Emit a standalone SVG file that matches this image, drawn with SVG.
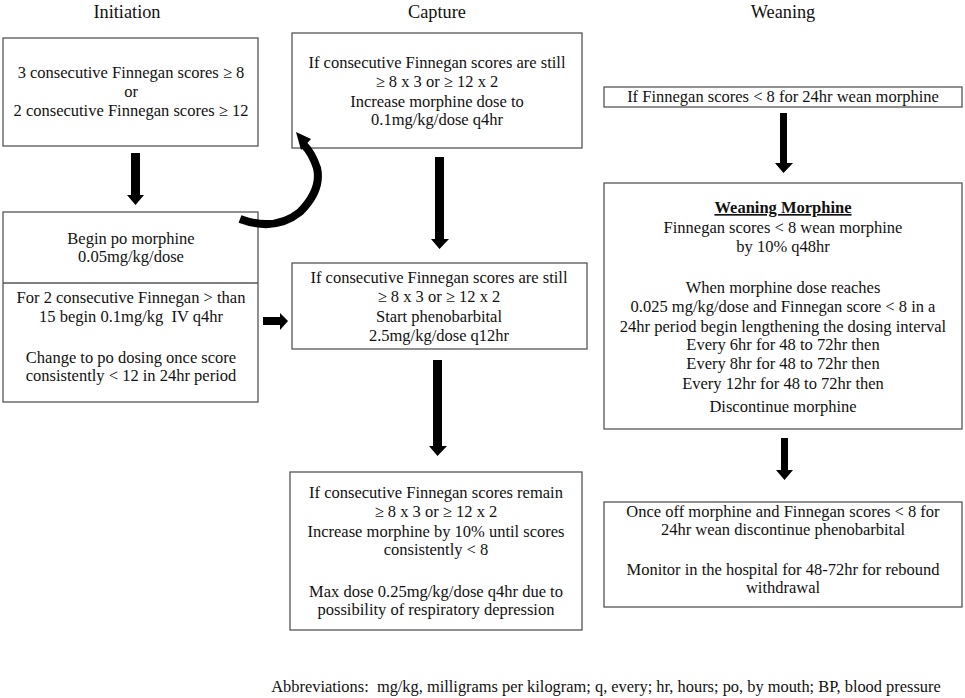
<svg xmlns="http://www.w3.org/2000/svg" width="965" height="698" viewBox="0 0 965 698" font-family="'Liberation Serif', 'Times New Roman', serif">
<style>
.box{fill:#fff;stroke:#555;stroke-width:1.3}
text{font-family:"Liberation Serif","Times New Roman",serif;font-size:16.5px;fill:#111;text-anchor:middle}
.title{font-size:18.3px}
.arr{fill:#000}
</style>
<rect width="965" height="698" fill="#fff"/>
<g id="titles">
<text class="title" x="127" y="18">Initiation</text>
<text class="title" x="437" y="18">Capture</text>
<text class="title" x="783" y="18">Weaning</text>
</g>
<g id="init1">
<rect class="box" x="3" y="38" width="255" height="108"/>
<text x="131" y="78">3 consecutive Finnegan scores ≥ 8</text>
<text x="131" y="97">or</text>
<text x="131" y="116">2 consecutive Finnegan scores ≥ 12</text>
</g>
<g id="init2">
<rect class="box" x="3" y="212" width="255" height="190"/>
<line x1="3" y1="283" x2="258" y2="283" stroke="#555" stroke-width="1.3"/>
<text x="131" y="244">Begin po morphine</text>
<text x="131" y="262">0.05mg/kg/dose</text>
<text x="131" y="303">For 2 consecutive Finnegan &gt; than</text>
<text x="131" y="322" xml:space="preserve">15 begin 0.1mg/kg  IV q4hr</text>
<text x="131" y="363">Change to po dosing once score</text>
<text x="131" y="381">consistently &lt; 12 in 24hr period</text>
</g>
<g id="cap1">
<rect class="box" x="292" y="33" width="290" height="115"/>
<text x="437" y="68">If consecutive Finnegan scores are still</text>
<text x="437" y="87">≥ 8 x 3 or ≥ 12 x 2</text>
<text x="437" y="107">Increase morphine dose to</text>
<text x="437" y="125">0.1mg/kg/dose q4hr</text>
</g>
<g id="cap2">
<rect class="box" x="292" y="263" width="295" height="86"/>
<text x="439" y="283">If consecutive Finnegan scores are still</text>
<text x="439" y="302">≥ 8 x 3 or ≥ 12 x 2</text>
<text x="439" y="322">Start phenobarbital</text>
<text x="439" y="341">2.5mg/kg/dose q12hr</text>
</g>
<g id="cap3">
<rect class="box" x="290" y="472" width="292" height="158"/>
<text x="436" y="498">If consecutive Finnegan scores remain</text>
<text x="436" y="517">≥ 8 x 3 or ≥ 12 x 2</text>
<text x="436" y="537">Increase morphine by 10% until scores</text>
<text x="436" y="555">consistently &lt; 8</text>
<text x="436" y="597">Max dose 0.25mg/kg/dose q4hr due to</text>
<text x="436" y="615">possibility of respiratory depression</text>
</g>
<g id="wean1">
<rect class="box" x="604" y="87" width="358" height="20"/>
<text x="783" y="102">If Finnegan scores &lt; 8 for 24hr wean morphine</text>
</g>
<g id="wean2">
<rect class="box" x="604" y="183" width="358" height="246"/>
<text x="783" y="213" font-weight="bold" text-decoration="underline">Weaning Morphine</text>
<text x="783" y="233">Finnegan scores &lt; 8 wean morphine</text>
<text x="783" y="252">by 10% q48hr</text>
<text x="783" y="293">When morphine dose reaches</text>
<text x="783" y="312">0.025 mg/kg/dose and Finnegan score &lt; 8 in a</text>
<text x="783" y="332">24hr period begin lengthening the dosing interval</text>
<text x="783" y="350">Every 6hr for 48 to 72hr then</text>
<text x="783" y="369">Every 8hr for 48 to 72hr then</text>
<text x="783" y="389">Every 12hr for 48 to 72hr then</text>
<text x="783" y="412">Discontinue morphine</text>
</g>
<g id="wean3">
<rect class="box" x="604" y="502" width="358" height="105"/>
<text x="783" y="517">Once off morphine and Finnegan scores &lt; 8 for</text>
<text x="783" y="535">24hr wean discontinue phenobarbital</text>
<text x="783" y="575">Monitor in the hospital for 48-72hr for rebound</text>
<text x="783" y="593">withdrawal</text>
</g>
<g id="connectors">
<polygon class="arr" points="131,153 140,153 140,195 144,195 135.5,205 127,195 131,195"/>
<polygon class="arr" points="435,157 444,157 444,239 449,239 439.5,249 431,239 435,239"/>
<polygon class="arr" points="433,360 442,360 442,446 447,446 437.5,456 429,446 433,446"/>
<polygon class="arr" points="780,113 787,113 787,163 793,163 783.5,173 775,163 780,163"/>
<polygon class="arr" points="781,438 788,438 788,470 793,470 784.5,480 776,470 781,470"/>
<polygon class="arr" points="263,317 280,317 280,313 288,321 280,330 280,325 263,325"/>
<path d="M 240,219 Q 275,232 300,212 Q 322,190 317,168 Q 312,153 304,145" fill="none" stroke="#000" stroke-width="8"/>
<polygon class="arr" points="296,132 311,139 301,150"/>
</g>
<text x="606" y="692" style="font-size:16.4px" xml:space="preserve">Abbreviations:  mg/kg, milligrams per kilogram; q, every; hr, hours; po, by mouth; BP, blood pressure</text>
</svg>
